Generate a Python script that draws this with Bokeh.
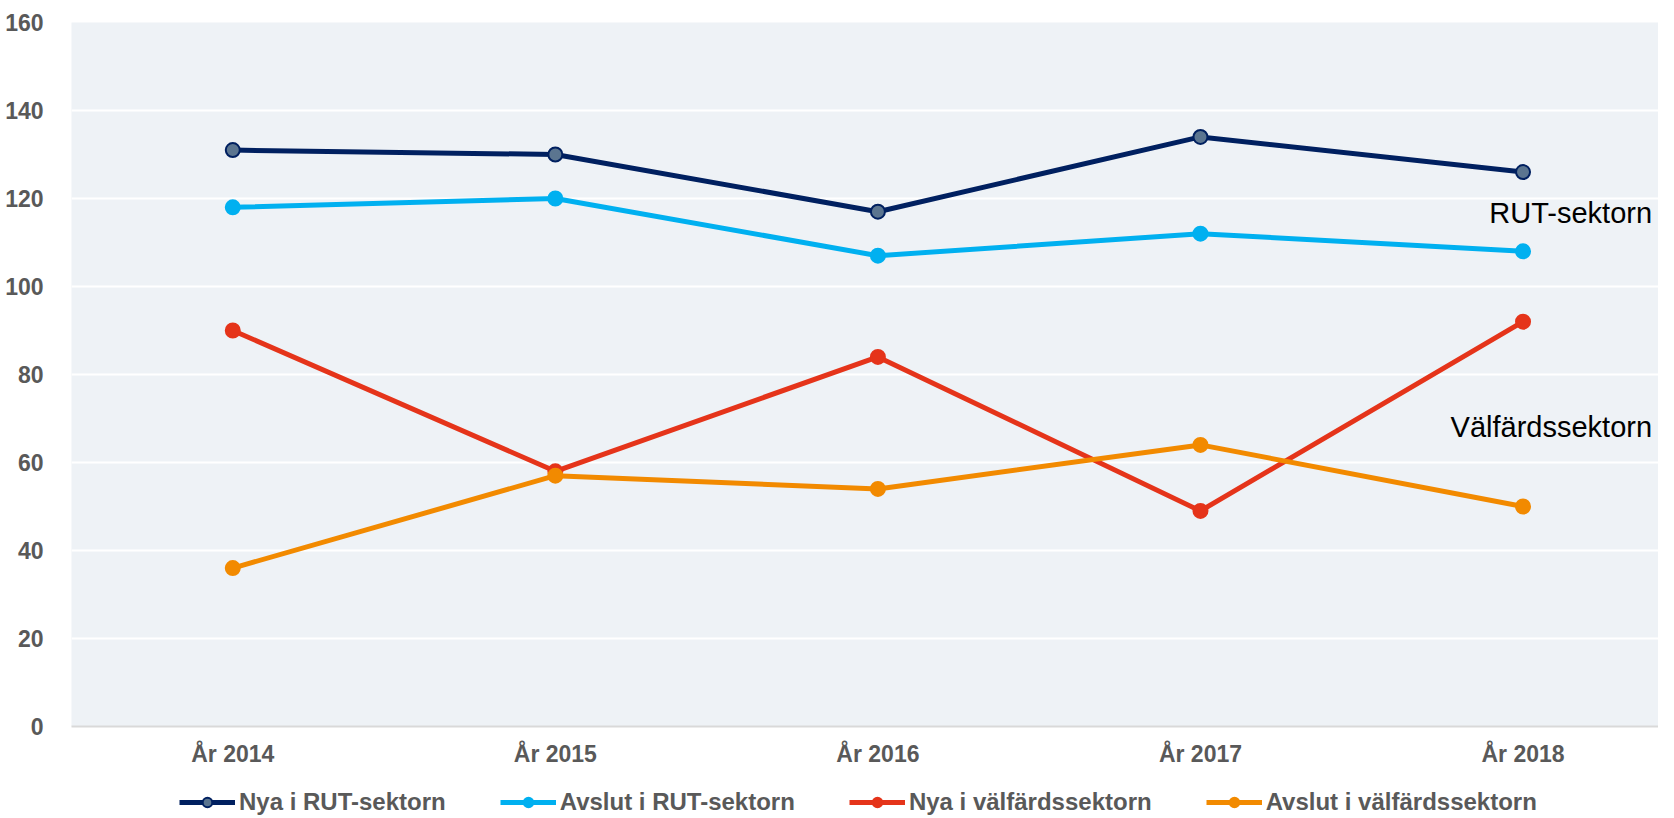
from bokeh.plotting import figure
from bokeh.layouts import column
from bokeh.models import Range1d, FixedTicker, Legend, LegendItem, Label
from bokeh.embed import file_html
from bokeh.resources import INLINE

years = ["År 2014", "År 2015", "År 2016", "År 2017", "År 2018"]
nya_rut = [131, 130, 117, 134, 126]
avslut_rut = [118, 120, 107, 112, 108]
nya_valf = [90, 58, 84, 49, 92]
avslut_valf = [36, 57, 54, 64, 50]
y_ticks = [0, 20, 40, 60, 80, 100, 120, 140, 160]

series = [
    ("Nya i RUT-sektorn", nya_rut, "#002060", "#5B7590"),
    ("Avslut i RUT-sektorn", avslut_rut, "#00B0F0", "#00B0F0"),
    ("Nya i välfärdssektorn", nya_valf, "#E5341A", "#E5341A"),
    ("Avslut i välfärdssektorn", avslut_valf, "#F28A00", "#F28A00"),
]

FONT = "Liberation Sans"
GREY = "#595959"

p = figure(width=1658, height=770, output_backend="svg", toolbar_location=None,
           x_range=Range1d(-0.5, 4.42), y_range=Range1d(0, 160),
           min_border_left=71, min_border_top=22, min_border_right=0,
           min_border_bottom=44)
p.background_fill_color = "#EEF2F6"
p.border_fill_color = "white"
p.outline_line_color = None

p.xgrid.visible = False
p.ygrid.grid_line_color = "white"
p.ygrid.grid_line_width = 2

p.yaxis.ticker = FixedTicker(ticks=y_ticks)
p.yaxis.axis_line_color = None
p.yaxis.major_tick_line_color = None
p.yaxis.minor_tick_line_color = None
p.yaxis.major_label_standoff = 22
p.yaxis.major_label_text_font = FONT
p.yaxis.major_label_text_font_size = "23px"
p.yaxis.major_label_text_font_style = "bold"
p.yaxis.major_label_text_color = GREY

xs = list(range(len(years)))
p.xaxis.ticker = FixedTicker(ticks=xs)
p.xaxis.major_label_overrides = {i: years[i] for i in xs}
p.xaxis.axis_line_color = "#D9D9D9"
p.xaxis.axis_line_width = 2
p.xaxis.major_tick_line_color = None
p.xaxis.minor_tick_line_color = None
p.xaxis.major_label_standoff = 8
p.xaxis.major_label_text_font = FONT
p.xaxis.major_label_text_font_size = "23px"
p.xaxis.major_label_text_font_style = "bold"
p.xaxis.major_label_text_color = GREY

# separate strip for the legend, below the chart (its own renderers sit out of view)
lg = figure(width=1658, height=46, output_backend="svg", toolbar_location=None,
            x_range=Range1d(0, 1), y_range=Range1d(1000, 1001),
            min_border_left=0, min_border_top=0, min_border_right=0,
            min_border_bottom=0)
lg.axis.visible = False
lg.grid.visible = False
lg.outline_line_color = None
lg.background_fill_color = "white"
lg.border_fill_color = "white"

items = []
for name, vals, col, fill in series:
    p.line(xs, vals, line_color=col, line_width=5)
    p.scatter(xs, vals, size=14, fill_color=fill, line_color=col, line_width=2)
    lr = lg.line(xs, vals, line_color=col, line_width=5)
    sr = lg.scatter(xs, vals, size=14, fill_color=fill, line_color=col, line_width=2)
    items.append(LegendItem(label=name, renderers=[lr, sr]))

legend = Legend(items=items, orientation="horizontal", location=(108, 0),
                glyph_width=56, glyph_height=24, label_standoff=4, spacing=54,
                label_text_font=FONT, label_text_font_size="24px",
                label_text_font_style="bold", label_text_color=GREY,
                border_line_color=None, background_fill_alpha=0,
                padding=0, margin=0)
lg.add_layout(legend, "center")

p.add_layout(Label(x=4.40, y=116.6, text="RUT-sektorn", text_align="right",
                   text_baseline="alphabetic", text_font=FONT,
                   text_font_size="29px", text_color="black"))
p.add_layout(Label(x=4.40, y=68.0, text="Välfärdssektorn", text_align="right",
                   text_baseline="alphabetic", text_font=FONT,
                   text_font_size="29px", text_color="black"))

layout = column(p, lg, spacing=0)
open("out.html", "w").write(file_html(layout, INLINE))
